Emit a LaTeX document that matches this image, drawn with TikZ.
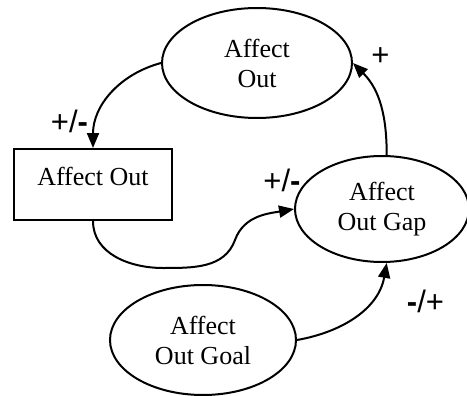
\documentclass[tikz,border=0pt]{standalone}
\usepackage{fontspec}
\setmainfont{Liberation Serif}
\newfontfamily\signfont{Liberation Sans}
\usetikzlibrary{arrows.meta,shapes.geometric}

\tikzset{
  state/.style={ellipse,draw,line width=1pt,align=center,inner sep=0pt},
  stock/.style={rectangle,draw,line width=1pt,minimum width=79pt,minimum height=35.5pt,text depth=8.5pt},
  link/.style={line width=1pt,-{Triangle[length=7.5pt,width=6pt]}},
  sign/.style={font=\signfont\fontsize{15.5}{17}\selectfont,inner sep=0pt}
}

\begin{document}
\begin{tikzpicture}[x=.5pt,y=-.5pt,font=\fontsize{13}{15}\selectfont]
\useasboundingbox (0,0) rectangle (467,396);
% variables
\node[state,minimum width=95pt,minimum height=55pt] (aout) at (257,63) {Affect\\Out};
\node[stock] (level) at (93,184.5) {Affect Out};
\node[state,minimum width=87pt,minimum height=53pt] (gap) at (382,209) {Affect\\Out Gap};
\node[state,minimum width=93pt,minimum height=55pt] (goal) at (203,340) {Affect\\Out Goal};
% causal links
\draw[link] (aout.west) to[out=195,in=90] (level.north);
\draw[link] (gap.85) to[out=90,in=-45] (aout.east);
\draw[link] (level.south) to[out=-90,in=180] (163,268) to[out=0,in=-110] (235,240) to[out=70,in=190] (gap.west);
\draw[link] (goal.east) to[out=10,in=-100] (gap.275);
% polarities
\node[sign] (s1) at (69.5,121) {+/\textbf{-}};
\node[sign] (s2) at (380.5,56.5) {+};
\node[sign] (s3) at (282,180) {+/\textbf{-}};
\node[sign] (s4) at (425.5,301) {\textbf{-}/+};
\end{tikzpicture}
\end{document}
